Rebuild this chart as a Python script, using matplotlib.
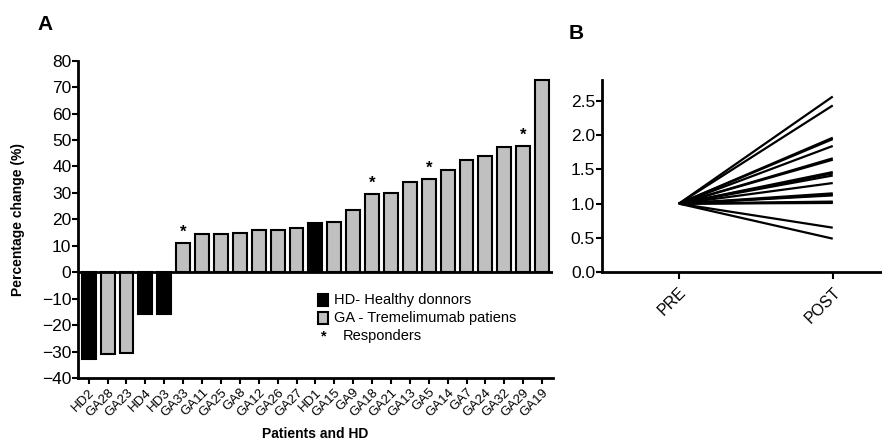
import numpy as np
import matplotlib
matplotlib.use('Agg')
import matplotlib.pyplot as plt
from matplotlib.patches import Rectangle

plt.rcParams['font.family'] = ['Liberation Sans', 'DejaVu Sans']

# panel A data
patients = ["HD2", "GA28", "GA23", "HD4", "HD3", "GA33", "GA11", "GA25", "GA8", "GA12",
            "GA26", "GA27", "HD1", "GA15", "GA9", "GA18", "GA21", "GA13", "GA5", "GA14",
            "GA7", "GA24", "GA32", "GA29", "GA19"]
pct_change = [-33.0, -31.1, -30.5, -15.9, -15.9, 11.0, 14.3, 14.3, 14.9, 15.8,
              15.8, 16.6, 18.6, 19.1, 23.5, 29.6, 30.0, 34.3, 35.2, 38.7,
              42.5, 43.9, 47.3, 47.7, 72.7]
responders = ["GA33", "GA18", "GA5", "GA29"]

# panel B data (fold change, PRE normalised to 1)
pre_post = ["PRE", "POST"]
post_values = [2.56, 2.43, 1.96, 1.94, 1.84, 1.66, 1.64, 1.46, 1.44, 1.41,
               1.30, 1.15, 1.13, 1.12, 1.03, 1.02, 1.01, 0.65, 0.49]

fig = plt.figure(figsize=(8.82, 4.41), dpi=100)

# ---- panel A ----
ax = fig.add_axes([0.0888, 0.1429, 0.538, 0.7195])
x = np.arange(len(patients))
colors = ['black' if p.startswith('HD') else '#c0c0c0' for p in patients]
ax.bar(x, pct_change, width=0.74, color=colors, edgecolor='black', linewidth=1.5, zorder=2)
ax.axhline(0, color='black', linewidth=2, zorder=3)

for i, p in enumerate(patients):
    if p in responders:
        ax.text(i, pct_change[i] + 1.2, '*', ha='center', va='bottom', fontsize=12,
                fontweight='bold')

ax.set_xlim(-0.55, len(patients) - 1 + 0.57)
ax.set_ylim(-40, 80)
ax.set_yticks(np.arange(-40, 81, 10))
ax.set_xticks(x)
ax.set_xticklabels(patients, rotation=45, ha='right', rotation_mode='anchor', fontsize=9.5)
ax.tick_params(axis='y', labelsize=12.5, width=1.5, length=4, pad=1)
ax.tick_params(axis='x', width=1.5, length=4, pad=2)
for s in ['top', 'right']:
    ax.spines[s].set_visible(False)
for s in ['left', 'bottom']:
    ax.spines[s].set_linewidth(2)
ax.set_ylabel('Percentage change (%)', fontsize=10, fontweight='bold', labelpad=12)
ax.set_xlabel('Patients and HD', fontsize=10, fontweight='bold', labelpad=6)

# legend drawn as in the original (squares + text)
leg_x, leg_y, step = 0.505, 0.246, 0.057
for k, (fc, txt) in enumerate([('black', 'HD- Healthy donnors'),
                               ('#c0c0c0', 'GA - Tremelimumab patiens')]):
    yy = leg_y - k * step
    ax.add_patch(Rectangle((leg_x, yy - 0.018), 0.022, 0.036, transform=ax.transAxes,
                           facecolor=fc, edgecolor='black', linewidth=1.5, clip_on=False))
    ax.text(leg_x + 0.033, yy, txt, transform=ax.transAxes, va='center', fontsize=10.5)
ax.text(leg_x + 0.006, leg_y - 2 * step, '*', transform=ax.transAxes, va='center',
        fontsize=10.5, fontweight='bold')
ax.text(leg_x + 0.052, leg_y - 2 * step, 'Responders', transform=ax.transAxes,
        va='center', fontsize=10.5)

fig.text(0.043, 0.945, 'A', fontsize=15, fontweight='bold', va='center')

# ---- panel B ----
bx = fig.add_axes([0.6825, 0.3825, 0.3175, 0.436])
for v in post_values:
    bx.plot([0, 1], [1.0, v], color='black', linewidth=1.6, solid_capstyle='butt')
bx.set_xlim(-0.5, 1.32)
bx.set_ylim(0, 2.8)
bx.set_yticks(np.arange(0, 2.51, 0.5))
bx.set_yticklabels(['%.1f' % t for t in np.arange(0, 2.51, 0.5)])
bx.set_xticks([0, 1])
bx.set_xticklabels(pre_post, rotation=45, ha='right', rotation_mode='anchor', fontsize=11.5)
bx.tick_params(axis='y', labelsize=12.5, width=1.5, length=4, pad=1)
bx.tick_params(axis='x', width=1.5, length=5, pad=4)
for s in ['top', 'right']:
    bx.spines[s].set_visible(False)
for s in ['left', 'bottom']:
    bx.spines[s].set_linewidth(2)

fig.text(0.645, 0.925, 'B', fontsize=15, fontweight='bold', va='center')

plt.savefig('out.png', dpi=100)
